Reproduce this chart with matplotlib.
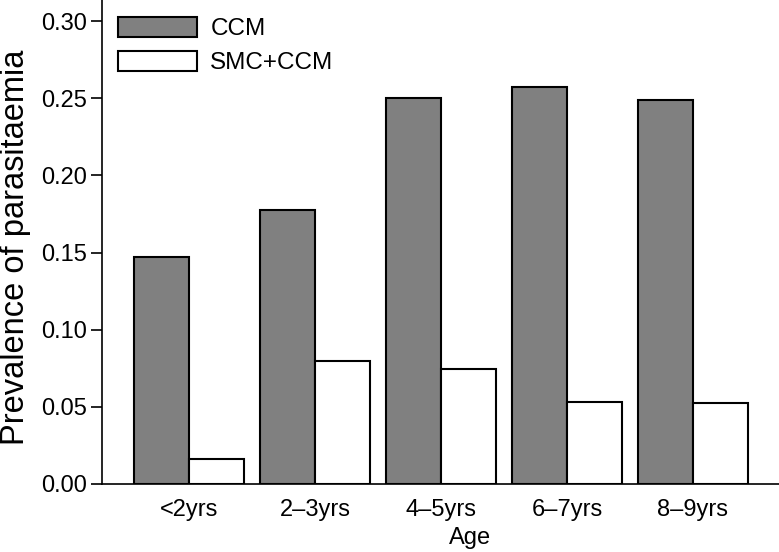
import matplotlib
matplotlib.use("Agg")
import matplotlib.pyplot as plt
import numpy as np

categories = ["<2yrs", "2\u20133yrs", "4\u20135yrs", "6\u20137yrs", "8\u20139yrs"]
ccm = [0.147, 0.1775, 0.250, 0.257, 0.2485]
smc_ccm = [0.0162, 0.0795, 0.0748, 0.0531, 0.0525]
series_names = ["CCM", "SMC+CCM"]
yticks = [0.00, 0.05, 0.10, 0.15, 0.20, 0.25, 0.30]

plt.rcParams['font.family'] = ['Liberation Sans', 'DejaVu Sans']

W, H = 779, 552
fig = plt.figure(figsize=(W/100, H/100), dpi=100)
ax = fig.add_axes([102/W, (H-484)/H, (840-102)/W, 484/H])

x = np.arange(len(categories))
bw = 55/126
ax.bar(x - bw/2, ccm, width=bw, color='#808080', edgecolor='black', linewidth=1.5, label=series_names[0])
ax.bar(x + bw/2, smc_ccm, width=bw, color='white', edgecolor='black', linewidth=1.5, label=series_names[1])

ax.set_xlim(-87/126, (840-189)/126)
ax.set_ylim(0, 0.30 + 21/1543)
ax.set_yticks(yticks)
ax.set_yticklabels([f"{v:.2f}" for v in yticks], fontsize=17)
ax.set_xticks(x)
ax.set_xticklabels(categories, fontsize=17)
ax.tick_params(axis='x', length=0, pad=10.5)
ax.tick_params(axis='y', length=8, width=1.2, pad=3)

for s in ['top', 'right']:
    ax.spines[s].set_visible(False)
for s in ['left', 'bottom']:
    ax.spines[s].set_linewidth(1.2)

ax.set_xlabel("Age", fontsize=17)
ax.xaxis.set_label_coords((470.5-102)/(840-102), -43/484)
ax.xaxis.label.set_va('top')
ax.set_ylabel("Prevalence of parasitaemia", fontsize=23.5)
ax.yaxis.set_label_coords(-102/(840-102), (484-247.5)/484)
ax.yaxis.label.set_va('top')

leg = ax.legend(loc='upper left', bbox_to_anchor=(118/W, 1 - 17/H), bbox_transform=fig.transFigure,
                frameon=False, fontsize=17.5, handlelength=3.25, handleheight=0.9,
                handletextpad=0.55, labelspacing=0.42, borderpad=0, borderaxespad=0)

fig.savefig("out.png", dpi=100)
